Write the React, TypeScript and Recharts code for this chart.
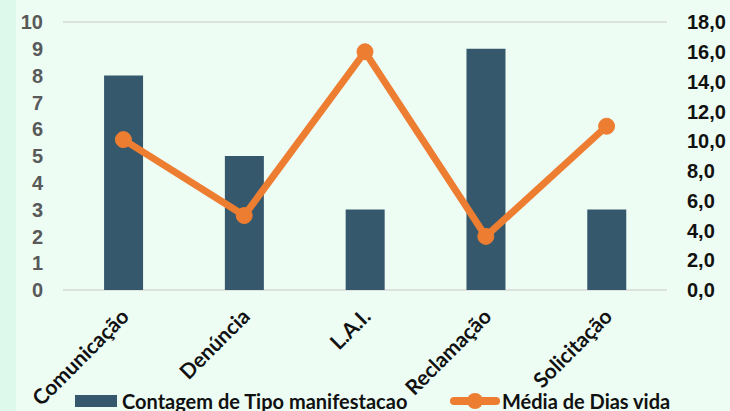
import { ComposedChart, Bar, Line, XAxis, YAxis, CartesianGrid, Legend } from "recharts";

const categories = ["Comunicação", "Denúncia", "L.A.I.", "Reclamação", "Solicitação"];
const contagem = [8, 5, 3, 9, 3];
const mediaDias = [10.1, 5.0, 16.0, 3.6, 11.0];
const leftTicks = [0, 1, 2, 3, 4, 5, 6, 7, 8, 9, 10];
const rightTicks = [0, 2, 4, 6, 8, 10, 12, 14, 16, 18];

const data = categories.map((c, i) => ({ name: c, contagem: contagem[i], media: mediaDias[i] }));

const BAR = "#36586c";
const LINE = "#ed7d31";

const LeftTick = (props: any) => {
  const { x, y, payload } = props;
  return (
    <text x={x - 12} y={y} dy="0.36em" textAnchor="end" fill="#595959"
      fontFamily="'Liberation Sans Narrow', 'Liberation Sans', Arial" fontWeight={700} fontSize={20}>
      {payload.value}
    </text>
  );
};

const RightTick = (props: any) => {
  const { x, y, payload } = props;
  return (
    <text x={x + 12} y={y} dy="0.36em" textAnchor="start" fill="#111"
      fontFamily="'Liberation Sans', Arial" fontWeight={700} fontSize={20}>
      {payload.value.toFixed(1).replace(".", ",")}
    </text>
  );
};

const CatTick = (props: any) => {
  const { x, y, payload } = props;
  return (
    <text transform={`translate(${x + 7},${y + 20}) rotate(-45)`} textAnchor="end" fill="#111"
      fontFamily="Lato, 'Open Sans', sans-serif" fontWeight={700} fontSize={21}>
      {payload.value}
    </text>
  );
};

const LegendContent = () => (
  <div style={{ display: "flex", alignItems: "center", height: 20, fontFamily: "Lato, 'Open Sans', sans-serif", fontWeight: 700, fontSize: 20, color: "#111" }}>
    <span style={{ display: "inline-block", width: 42, height: 12, background: BAR, marginLeft: 75, marginRight: 5 }} />
    <span style={{ display: "inline-block", width: 328, whiteSpace: "nowrap" }}>Contagem de Tipo manifestacao</span>
    <svg width={50} height={20} style={{ marginRight: 2 }}>
      <line x1={4} y1={10} x2={46} y2={10} stroke={LINE} strokeWidth={8} strokeLinecap="round" />
      <circle cx={25} cy={10} r={8} fill={LINE} />
    </svg>
    <span>Média de Dias vida</span>
  </div>
);

export default function App() {
  return (
    <div style={{ position: "absolute", left: 0, top: 0, width: 730, height: 411, background: "#edfdf4", overflow: "hidden" }}>
      <div style={{ position: "absolute", left: 0, top: 0, width: 16, height: 411, background: "#dcf9ec" }} />
      <ComposedChart width={730} height={411} data={data} margin={{ top: 22, right: 0, bottom: 0, left: 0 }} barCategoryGap="34%">
        <CartesianGrid vertical={false} stroke="#d9d9d9" strokeWidth={1.5} />
        <XAxis dataKey="name" axisLine={false} tickLine={false} interval={0} height={101} tick={<CatTick />} />
        <YAxis yAxisId="left" domain={[0, 10]} ticks={leftTicks} width={63} axisLine={false} tickLine={false} tick={<LeftTick />} />
        <YAxis yAxisId="right" orientation="right" domain={[0, 18]} ticks={rightTicks} width={63} axisLine={false} tickLine={false} tick={<RightTick />} />
        <Legend verticalAlign="bottom" height={20} content={<LegendContent />} />
        <Bar yAxisId="left" dataKey="contagem" fill={BAR} isAnimationActive={false} />
        <Line yAxisId="right" dataKey="media" type="linear" stroke={LINE} strokeWidth={7}
          dot={{ r: 8, fill: LINE, stroke: LINE, strokeWidth: 1 }} isAnimationActive={false} />
      </ComposedChart>
    </div>
  );
}
